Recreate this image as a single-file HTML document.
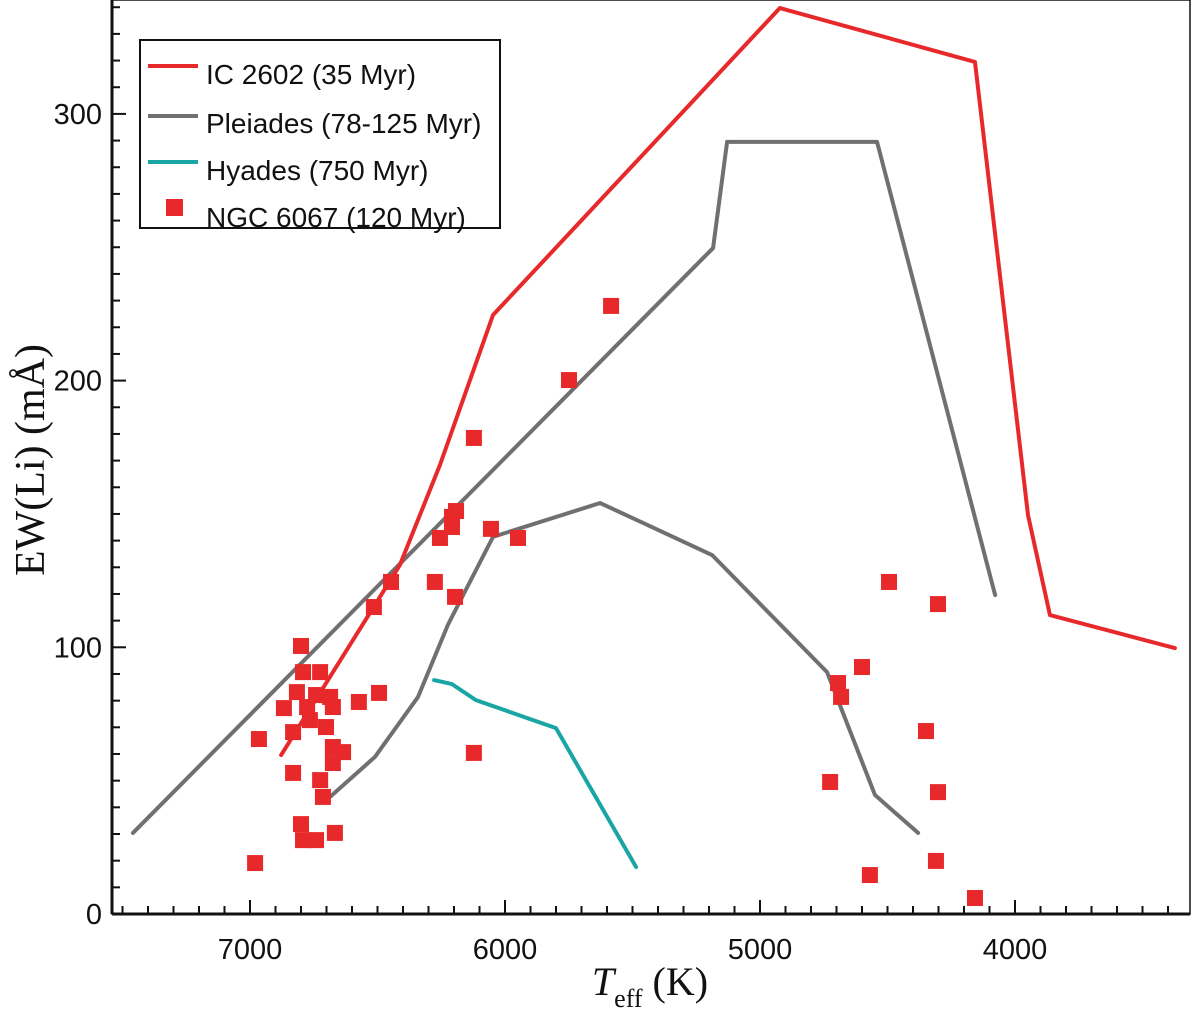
<!DOCTYPE html>
<html><head><meta charset="utf-8"><style>
html,body{margin:0;padding:0;background:#fff;}
svg{display:block;}
</style></head><body>
<svg id="chart" width="1200" height="1014" viewBox="0 0 1200 1014" xmlns="http://www.w3.org/2000/svg">
<rect x="112" y="0" width="1078" height="914" fill="none" stroke="#111" stroke-width="1.5"/>
<g id="ticks"></g><g id="lines"></g><g id="points"></g>
<g>
<rect x="140" y="40" width="360" height="188" fill="#fff" stroke="#111" stroke-width="2"/>
<line x1="148" y1="66" x2="198" y2="66" stroke="#e8292b" stroke-width="4"/>
<text x="206" y="84" font-family="Liberation Sans, sans-serif" font-size="28" fill="#111">IC 2602 (35 Myr)</text>
<line x1="148" y1="116" x2="198" y2="116" stroke="#707070" stroke-width="4"/>
<text x="206" y="133" font-family="Liberation Sans, sans-serif" font-size="28" fill="#111">Pleiades (78-125 Myr)</text>
<line x1="148" y1="162" x2="198" y2="162" stroke="#1aa5a5" stroke-width="4"/>
<text x="206" y="180" font-family="Liberation Sans, sans-serif" font-size="28" fill="#111">Hyades (750 Myr)</text>
<rect x="166" y="199" width="17" height="17" fill="#e8292b"/>
<text x="206" y="227" font-family="Liberation Sans, sans-serif" font-size="28" fill="#111">NGC 6067 (120 Myr)</text>
</g>
<text transform="translate(44,460) rotate(-90)" text-anchor="middle" font-family="Liberation Serif, serif" font-size="42" fill="#111">EW(Li) (mÅ)</text>
<text x="650" y="995" text-anchor="middle" font-family="Liberation Serif, serif" font-size="40" fill="#111"><tspan font-style="italic">T</tspan><tspan font-size="26" dy="12">eff</tspan><tspan dy="-12"> (K)</tspan></text>
</svg>
<script>
const xTicks=[7000,6000,5000,4000];
const yTicks=[0,100,200,300];
const icT=[6878,6412,6255,6047,4922,4157,3949,3863,3373];
const icV=[59.6,130.9,168.4,224.6,339.7,319.5,149.6,112.1,99.7];
const plUpT=[7459,5184,5129,4541,4078];
const plUpV=[30.4,249.7,289.5,289.5,119.6];
const plLoT=[6686,6510,6341,6224,6047,5627,5188,4737,4549,4380];
const plLoV=[43.9,58.9,81.4,108.4,141.4,154.1,134.6,90.7,44.6,30.4];
const hyT=[6278,6208,6114,5800,5486];
const hyV=[87.7,86.2,80.2,69.7,17.6];
const ngcT=[6980,6965,6831,6800,6792,6725,6816,6741,6686,6867,6776,6675,6573,6494,6831,6765,6702,6675,6635,6675,6725,6714,6800,6792,6741,6667,6514,6447,6275,6255,6208,6192,6208,6196,6122,6055,5949,5584,5749,6122,4694,4682,4600,4725,4569,4494,4302,4349,4302,4310,4157];
const ngcV=[19.1,65.6,52.9,100.5,90.7,90.7,83.2,82.1,81.4,77.2,77.6,77.6,79.5,82.9,68.2,72.7,70.1,62.6,60.7,56.6,50.2,43.9,33.7,27.7,27.7,30.4,115.1,124.5,124.5,141,148.9,151.1,145.1,118.9,178.5,144.4,141,228,200.2,60.4,86.6,81.4,92.6,49.5,14.6,124.5,116.2,68.6,45.7,19.9,6];
const NS='http://www.w3.org/2000/svg';
const X=t=>250+(7000-t)*0.255;
const Y=v=>914-v*2.667;
function mk(tag,parent,attrs){const e=document.createElementNS(NS,tag);for(const k in attrs)e.setAttribute(k,attrs[k]);parent.appendChild(e);return e;}
const tg=document.getElementById('ticks');
let ax=mk('line',tg,{x1:112,y1:914,x2:1190,y2:914,stroke:'#111','stroke-width':3});


let ay=mk('line',tg,{x1:112,y1:0,x2:112,y2:914,stroke:'#111','stroke-width':3});


for(let t=7500;t>=3400;t-=100){const major=t%1000===0;const l=mk('line',tg,{x1:X(t),y1:914,x2:X(t),y2:914-(major?14:8),stroke:'#111','stroke-width':2});

}
for(let v=0;v<=340;v+=10){const major=v%100===0;const l=mk('line',tg,{x1:112,y1:Y(v),x2:112+(major?14:8),y2:Y(v),stroke:'#111','stroke-width':2});

}
xTicks.forEach(t=>{const e=mk('text',tg,{x:X(t),y:959,'text-anchor':'middle','font-family':'Liberation Sans, sans-serif','font-size':29,fill:'#111'});e.textContent=t;

});
yTicks.forEach(v=>{const e=mk('text',tg,{x:102,y:Y(v)+10,'text-anchor':'end','font-family':'Liberation Sans, sans-serif','font-size':29,fill:'#111'});e.textContent=v;

});
const lg=document.getElementById('lines');
function line(T,V,color,name){const p=mk('polyline',lg,{points:T.map((t,i)=>X(t)+','+Y(V[i])).join(' '),fill:'none',stroke:color,'stroke-width':4,'stroke-linejoin':'round','stroke-linecap':'round'});

}
line(plUpT,plUpV,'#707070','pleiades-upper-line');
line(plLoT,plLoV,'#707070','pleiades-lower-line');
line(hyT,hyV,'#1aa5a5','hyades-line');
line(icT,icV,'#e8292b','ic2602-line');
const pg=document.getElementById('points');
ngcT.forEach((t,i)=>{const r=mk('rect',pg,{x:X(t)-8,y:Y(ngcV[i])-8,width:16,height:16,fill:'#e8292b'});

});
</script>
</body></html>
